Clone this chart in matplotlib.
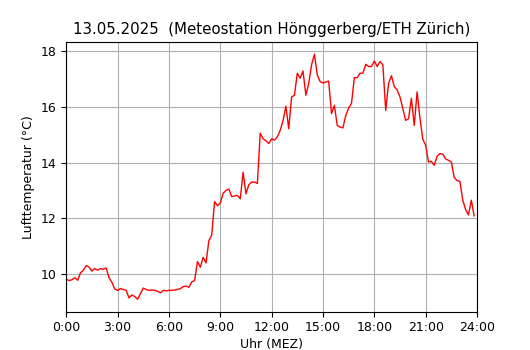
import numpy as np
import matplotlib
matplotlib.use("Agg")
import matplotlib.pyplot as plt

plt.rcParams["font.size"] = 9

# 10-minute readings, 00:00 .. 23:50
temp = [
    9.81, 9.77, 9.80, 9.87, 9.78, 10.05,
    10.14, 10.31, 10.25, 10.11, 10.20, 10.14,
    10.20, 10.17, 10.22, 9.87, 9.71, 9.47,
    9.42, 9.48, 9.45, 9.42, 9.15, 9.25,
    9.20, 9.10, 9.30, 9.50, 9.45, 9.42,
    9.43, 9.42, 9.39, 9.33, 9.42, 9.40,
    9.42, 9.42, 9.43, 9.45, 9.48, 9.55,
    9.57, 9.53, 9.72, 9.77, 10.45, 10.25,
    10.60, 10.40, 11.20, 11.40, 12.60, 12.45,
    12.55, 12.90, 13.00, 13.05, 12.78, 12.80,
    12.82, 12.70, 13.65, 12.88, 13.20, 13.30,
    13.30, 13.25, 15.05, 14.85, 14.78, 14.68,
    14.85, 14.80, 14.92, 15.15, 15.50, 16.02,
    15.21, 16.35, 16.41, 17.20, 17.02, 17.28,
    16.41, 16.83, 17.50, 17.88, 17.14, 16.90,
    16.85, 16.88, 16.92, 15.75, 16.05, 15.33,
    15.27, 15.24, 15.69, 15.95, 16.12, 17.04,
    17.04, 17.20, 17.20, 17.52, 17.44, 17.44,
    17.64, 17.44, 17.62, 17.50, 15.87, 16.84,
    17.11, 16.72, 16.60, 16.35, 15.93, 15.51,
    15.57, 16.30, 15.33, 16.53, 15.60, 14.83,
    14.62, 14.02, 14.04, 13.90, 14.22, 14.32,
    14.30, 14.13, 14.08, 14.02, 13.47, 13.35,
    13.33, 12.65, 12.32, 12.12, 12.65, 12.09,
]
minutes = np.arange(0, 1440, 10)
hours = minutes / 60

tick_hours = [0, 3, 6, 9, 12, 15, 18, 21, 24]
tick_labels = ["%d:00" % h for h in tick_hours]

fig, ax = plt.subplots(figsize=(5.3, 3.5), dpi=100)
ax.plot(hours, temp, color="red", linewidth=1)
ax.set_xlim(0, 24)
ax.set_xticks(tick_hours)
ax.set_xticklabels(tick_labels)
ax.grid(True)
ax.set_title("13.05.2025  (Meteostation Hönggerberg/ETH Zürich)")
ax.set_xlabel("Uhr (MEZ)", labelpad=3)
ax.set_ylabel("Lufttemperatur (°C)")

plt.savefig("out.png")
